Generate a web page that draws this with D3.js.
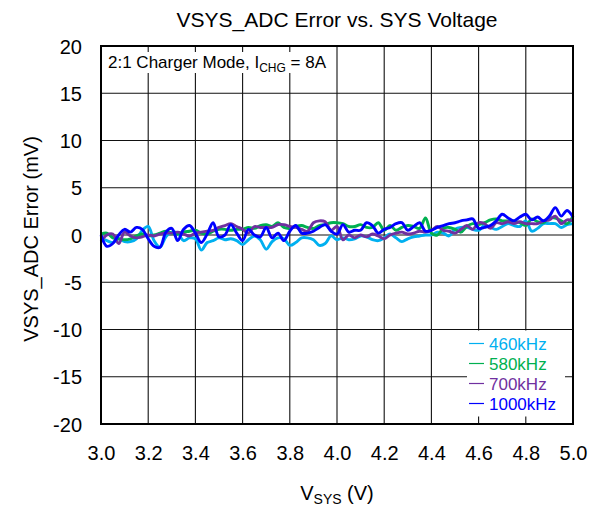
<!DOCTYPE html>
<html>
<head>
<meta charset="utf-8">
<script src="https://cdn.jsdelivr.net/npm/d3@7"></script>
<style>
  body { margin: 0; background: #fff; }
  text { font-family: Arial, "Liberation Sans", sans-serif; }
</style>
</head>
<body>
<div id="chart"></div>
<script>
// x values: VSYS from 3.0 V to 5.0 V in 25 mV steps
var vsys = d3.range(0, 81).map(function(i) { return 3 + i * 0.025; });

var xTicks = [3.0, 3.2, 3.4, 3.6, 3.8, 4.0, 4.2, 4.4, 4.6, 4.8, 5.0];
var yTicks = [-20, -15, -10, -5, 0, 5, 10, 15, 20];

var seriesNames = ["460kHz", "580kHz", "700kHz", "1000kHz"];
var seriesColors = ["#00b0f0", "#00b050", "#7030a0", "#0000ff"];

var err460 = [
  -0.3, -0.6, -0.8, -0.4, -0.7, -0.7, -0.4, 0.5, 0.9, -0.6,
  -1.3, -0.2, 0.3, 0.2, -0.6, -0.3, -0.4, -1.6, -0.8, -0.6,
  -0.3, -0.5, -0.4, -0.6, -1.0, -0.5, -0.1, -0.5, -1.5, -0.7,
  -0.3, -0.4, -1.1, -0.8, -0.3, -0.3, -0.5, -1.1, -0.9, -0.1,
  -0.5, -0.3, -0.5, -0.4, -0.1, -0.2, -0.5, -0.6, -0.3, 0.1,
  -0.3, -0.7, -0.4, -0.2, -0.1, 0.0, 0.0, 0.3, 0.2, -0.1,
  0.6, 0.8, 0.8, 0.6, 0.5, 1.0, 0.8, 0.6, 0.9, 1.2,
  1.0, 0.9, 1.5, 0.4, 0.7, 1.2, 1.2, 1.2, 0.8, 1.1,
  1.2
];

var err580 = [
  0.1, 0.2, -0.3, -0.4, -0.5, -0.4, -0.1, 0.1, -0.1, 0.0,
  0.2, 0.4, 0.2, 0.1, 0.3, 0.4, 0.5, 0.2, 0.1, 0.4,
  0.6, 0.6, 0.5, 0.6, 0.6, 0.8, 0.7, 1.0, 1.1, 0.9,
  1.3, 0.8, 0.7, 0.9, 1.0, 0.8, 0.7, 1.0, 1.1, 1.3,
  1.3, 1.2, 0.9, 0.9, 1.1, 0.8, 0.8, 1.3, 0.5, 1.0,
  0.5, 0.8, 1.0, 0.9, 0.7, 1.8, 0.2, 0.0, 0.7, 0.8,
  0.6, 0.3, 0.9, 1.2, 1.1, 1.3, 1.6, 1.7, 1.5, 1.5,
  1.5, 1.3, 1.0, 1.7, 1.4, 1.3, 1.8, 1.8, 1.5, 1.2,
  2.0
];

var err700 = [
  -0.7, 0.0, 0.1, -0.9, 0.3, -0.1, -0.3, -0.2, 0.0, -0.1,
  0.1, 0.2, 0.2, 0.3, 0.1, -0.1, 0.2, 0.3, 0.4, 0.5,
  0.8, 1.0, 1.2, 0.9, 0.6, 0.2, 0.9, 0.8, 0.8, 0.8,
  1.1, 1.1, 0.9, 0.8, 0.6, 0.4, 1.3, 1.5, 1.4, 0.5,
  0.9, -0.5, 0.0, -0.3, 0.0, -0.2, 0.1, -0.1, -0.4, 0.0,
  0.2, 0.3, 0.1, 0.2, 0.4, 0.3, 0.5, 0.9, 0.5, 0.4,
  0.2, 0.6, 1.0, 0.6, 1.3, 1.2, 0.7, 1.3, 1.2, 1.4,
  1.2, 1.4, 1.2, 1.2, 1.2, 1.5, 1.6, 2.0, 1.2, 1.6,
  1.5
];

var err1000 = [
  0.0, -1.2, -0.9, 0.0, 0.6, 0.3, 0.8, 0.6, -0.4, -1.2,
  -1.3, 0.3, 0.7, -0.6, 0.6, 1.0, 0.2, -0.8, 0.1, 1.3,
  -0.2, 0.0, 1.1, 0.2, -0.6, 0.6, 0.0, -0.2, 0.8, -0.3,
  0.2, -0.6, 0.4, 1.0, 0.2, 0.2, 0.4, 0.8, 1.1, 0.4,
  0.1, 1.1, 0.3, 0.5, 0.5, 1.3, 1.0, 0.2, 0.6, 0.8,
  1.2, 1.3, 0.5, 0.9, 1.3, 0.4, 0.5, 0.8, 1.0, 1.2,
  1.3, 1.5, 1.6, 1.7, 0.7, 0.8, 1.0, 1.5, 2.2, 1.8,
  1.5, 1.9, 2.2, 1.6, 1.9, 1.5, 2.0, 2.9, 2.0, 2.6,
  1.9
];

var svgWidth = 598;
var svgHeight = 508;

var margin = { top: 46, right: 25, bottom: 84, left: 101 };
var width = svgWidth - margin.left - margin.right;
var height = svgHeight - margin.top - margin.bottom;

var svg = d3.select("#chart")
  .append("svg")
  .attr("width", svgWidth)
  .attr("height", svgHeight);

var chartGroup = svg.append("g")
  .attr("transform", `translate(${margin.left}, ${margin.top})`);

var xScale = d3.scaleLinear().domain([3, 5]).range([0, width]);
var yScale = d3.scaleLinear().domain([-20, 20]).range([height, 0]);

// grid lines
chartGroup.append("g")
  .selectAll("line")
  .data(xTicks)
  .enter()
  .append("line")
  .attr("x1", d => xScale(d))
  .attr("x2", d => xScale(d))
  .attr("y1", 0)
  .attr("y2", height)
  .attr("stroke", "#111")
  .attr("stroke-width", 1.1);

chartGroup.append("g")
  .selectAll("line")
  .data(yTicks)
  .enter()
  .append("line")
  .attr("x1", 0)
  .attr("x2", width)
  .attr("y1", d => yScale(d))
  .attr("y2", d => yScale(d))
  .attr("stroke", "#111")
  .attr("stroke-width", 1.1);

// axes, labels only (plain hyphen for negatives, like the original)
var bottomAxis = d3.axisBottom(xScale).tickValues(xTicks).tickSize(0).tickPadding(0).tickFormat(d3.format(".1f"));
var leftAxis = d3.axisLeft(yScale).tickValues(yTicks).tickSize(0).tickPadding(0).tickFormat(d => String(d));

var xAxis = chartGroup.append("g")
  .attr("transform", `translate(0, ${height})`)
  .call(bottomAxis);
xAxis.select(".domain").remove();
xAxis.selectAll("text")
  .attr("y", 36)
  .attr("dy", 0)
  .attr("font-size", "20px")
  .attr("font-family", "Arial, 'Liberation Sans', sans-serif")
  .attr("fill", "#000");

var yAxis = chartGroup.append("g").call(leftAxis);
yAxis.select(".domain").remove();
yAxis.selectAll("text")
  .attr("x", -19)
  .attr("dy", "0.35em")
  .attr("font-size", "20px")
  .attr("font-family", "Arial, 'Liberation Sans', sans-serif")
  .attr("fill", "#000");

// data lines
svg.append("defs").append("clipPath")
  .attr("id", "plot-clip")
  .append("rect")
  .attr("x", -2)
  .attr("y", 0)
  .attr("width", width + 4)
  .attr("height", height);

var allSeries = [err460, err580, err700, err1000];

var line = d3.line()
  .x((d, i) => xScale(vsys[i]))
  .y(d => yScale(d))
  .curve(d3.curveCatmullRom.alpha(0.5));

chartGroup.append("g")
  .attr("clip-path", "url(#plot-clip)")
  .selectAll("path")
  .data(allSeries)
  .enter()
  .append("path")
  .attr("d", d => line(d))
  .attr("fill", "none")
  .attr("stroke", (d, i) => seriesColors[i])
  .attr("stroke-width", 2.9)
  .attr("stroke-linejoin", "round");

// plot frame
chartGroup.append("rect")
  .attr("x", 0)
  .attr("y", 0)
  .attr("width", width)
  .attr("height", height)
  .attr("fill", "none")
  .attr("stroke", "#000")
  .attr("stroke-width", 2);

// condition note, top left
chartGroup.append("rect")
  .attr("x", 1)
  .attr("y", 6)
  .attr("width", 231)
  .attr("height", 21)
  .attr("fill", "#fff");

var note = chartGroup.append("text")
  .attr("x", 7)
  .attr("y", 22)
  .attr("font-size", "17px")
  .attr("fill", "#000");
note.append("tspan").text("2:1 Charger Mode, I");
note.append("tspan").attr("font-size", "12px").attr("dy", 4).text("CHG");
note.append("tspan").attr("dy", -4).text(" = 8A");

// legend
var legend = chartGroup.append("g")
  .attr("transform", `translate(${width - 106}, ${yScale(-10) + 1})`);

legend.append("rect")
  .attr("x", 0)
  .attr("y", 0)
  .attr("width", 98)
  .attr("height", 86)
  .attr("fill", "#fff");

var legendItems = legend.selectAll("g")
  .data(seriesNames)
  .enter()
  .append("g")
  .attr("transform", (d, i) => `translate(0, ${13 + i * 20})`);

legendItems.append("line")
  .attr("x1", 2)
  .attr("x2", 17)
  .attr("y1", 0)
  .attr("y2", 0)
  .attr("stroke", (d, i) => seriesColors[i])
  .attr("stroke-width", 1.2);

legendItems.append("text")
  .attr("x", 22)
  .attr("y", 6)
  .attr("font-size", "17px")
  .attr("fill", (d, i) => seriesColors[i])
  .text(d => d);

// title and axis titles
svg.append("text")
  .attr("x", margin.left + width / 2)
  .attr("y", 27)
  .attr("text-anchor", "middle")
  .attr("font-size", "21px")
  .attr("fill", "#000")
  .text("VSYS_ADC Error vs. SYS Voltage");

var xTitle = svg.append("text")
  .attr("x", margin.left + width / 2)
  .attr("y", 500)
  .attr("text-anchor", "middle")
  .attr("font-size", "20px")
  .attr("fill", "#000");
xTitle.append("tspan").text("V");
xTitle.append("tspan").attr("font-size", "14px").attr("dy", 4).text("SYS");
xTitle.append("tspan").attr("dy", -4).text(" (V)");

svg.append("text")
  .attr("transform", `translate(38, ${margin.top + height / 2 + 4}) rotate(-90)`)
  .attr("text-anchor", "middle")
  .attr("font-size", "20px")
  .attr("fill", "#000")
  .text("VSYS_ADC Error (mV)");
</script>
</body>
</html>
